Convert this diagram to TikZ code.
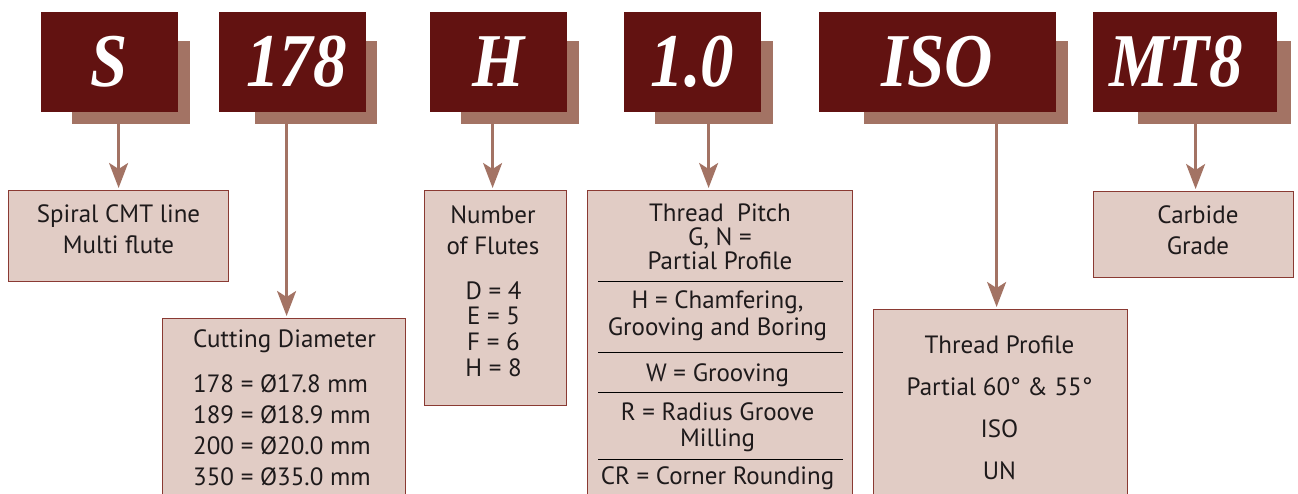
\documentclass[tikz,border=0pt]{standalone}
\usepackage{fontspec}
\setmainfont{PT Sans}
\newfontfamily\codefont[FakeStretch=0.88]{Liberation Serif}
\usetikzlibrary{arrows.meta}
\definecolor{cmtred}{HTML}{621211}
\definecolor{cmtshade}{HTML}{A37364}
\definecolor{cmtpale}{HTML}{E1CCC5}
\definecolor{cmtedge}{HTML}{8A3A33}
\definecolor{cmtink}{HTML}{1E1A1B}
\begin{document}
\begin{tikzpicture}[x=1pt, y=-1pt,
  codebox/.style={fill=cmtred, text=white, minimum height=100pt, inner sep=0pt,
    font=\codefont\bfseries\itshape\fontsize{76}{76}\selectfont},
  backbox/.style={fill=cmtshade, minimum height=83pt, inner sep=0pt, anchor=north west},
  infobox/.style={draw=cmtedge, fill=cmtpale, line width=1.2pt, inner sep=0pt, anchor=north west},
  txt/.style={text=cmtink, align=center, inner sep=0pt, font=\fontsize{25}{31}\selectfont},
  arr/.style={draw=cmtshade, line width=2.6pt, shorten >=2pt,
    -{Stealth[length=25pt, width=19pt, inset=6pt]}},
  rule/.style={draw=black, line width=0.9pt}]
  \path[use as bounding box] (0,0) rectangle (1298,494);
  \clip (0,0) rectangle (1298,494);

  \node[backbox, minimum width=118pt] (sS) at (72,41) {};
  \node[backbox, minimum width=122pt] (s178) at (255,41) {};
  \node[backbox, minimum width=118pt] (sH) at (461,41) {};
  \node[backbox, minimum width=118pt] (sPitch) at (655,41) {};
  \node[backbox, minimum width=204pt] (sISO) at (864,41) {};
  \node[backbox, minimum width=153pt] (sMT8) at (1138,41) {};

  \node[codebox, minimum width=137pt] (cS) at (109.5,62) {S};
  \node[codebox, minimum width=147pt] (c178) at (292.5,62) {\kern8pt 178};
  \node[codebox, minimum width=137pt] (cH) at (498.5,62) {H};
  \node[codebox, minimum width=137pt] (cPitch) at (692.5,62) {1.0};
  \node[codebox, minimum width=237pt] (cISO) at (937.5,62) {ISO};
  \node[codebox, minimum width=184pt] (cMT8) at (1185,62) {MT8\kern18pt};

  \node[infobox, minimum width=220pt, minimum height=91pt] (dLine) at (8,190) {};
  \node[infobox, minimum width=243pt, minimum height=220pt] (dDia) at (162,318) {};
  \node[infobox, minimum width=142pt, minimum height=215pt] (dFlutes) at (424,190) {};
  \node[infobox, minimum width=265pt, minimum height=330pt] (dPitch) at (587,190) {};
  \node[infobox, minimum width=254pt, minimum height=220pt] (dProfile) at (873,309) {};
  \node[infobox, minimum width=200pt, minimum height=86pt] (dGrade) at (1093,191) {};

  \draw[arr] (sS.south -| dLine.north) -- (dLine.north);
  \draw[arr] ([xshift=2.5pt]dDia.north |- s178.south) -- ([xshift=2.5pt]dDia.north);
  \draw[arr] ([xshift=-3pt]dFlutes.north |- sH.south) -- ([xshift=-3pt]dFlutes.north);
  \draw[arr] ([xshift=-11.5pt]dPitch.north |- sPitch.south) -- ([xshift=-11.5pt]dPitch.north);
  \draw[arr] ([xshift=-4pt]dProfile.north |- sISO.south) -- ([xshift=-4pt]dProfile.north);
  \draw[arr] ([xshift=2pt]dGrade.north |- sMT8.south) -- ([xshift=2pt]dGrade.north);

  \node[txt] (tLine) at (118.5,229.5) {Spiral CMT line\\Multi flute};
  \node[txt, anchor=west] (tDia) at (193,341) {Cutting Diameter};
  \node[txt, anchor=west, align=left] (tDiaList) at (193,430) {178 = Ø17.8 mm\\189 = Ø18.9 mm\\200 = Ø20.0 mm\\350 = Ø35.0 mm};
  \node[txt] (tFlutes) at (493,230) {Number\\of Flutes};
  \node[txt, font=\fontsize{25}{25.7}\selectfont] (tFlutesList) at (493.5,329) {D = 4\\E = 5\\F = 6\\H = 8};
  \node[txt, font=\fontsize{25}{24}\selectfont] (tPitch) at (720,237) {Thread\ \ Pitch\\G, N =\\Partial Profile};
  \node[txt, font=\fontsize{25}{27}\selectfont] (tChamfer) at (717.5,315.5) {H = Chamfering,\\Grooving and Boring};
  \node[txt] (tGroove) at (717.5,375) {W = Grooving};
  \node[txt, font=\fontsize{25}{26}\selectfont] (tRadius) at (717.5,427) {R = Radius Groove\\Milling};
  \node[txt] (tCorner) at (717.5,478.5) {CR = Corner Rounding};
  \node[txt, font=\fontsize{25}{42}\selectfont] (tProfile) at (999.5,408) {Thread Profile\\Partial 60° \& 55°\\ISO\\UN};
  \node[txt] (tGrade) at (1198,230) {Carbide\\Grade};

  \foreach \y in {281,352,392,459}
    \draw[rule] (598,\y) -- (843,\y);
\end{tikzpicture}
\end{document}
